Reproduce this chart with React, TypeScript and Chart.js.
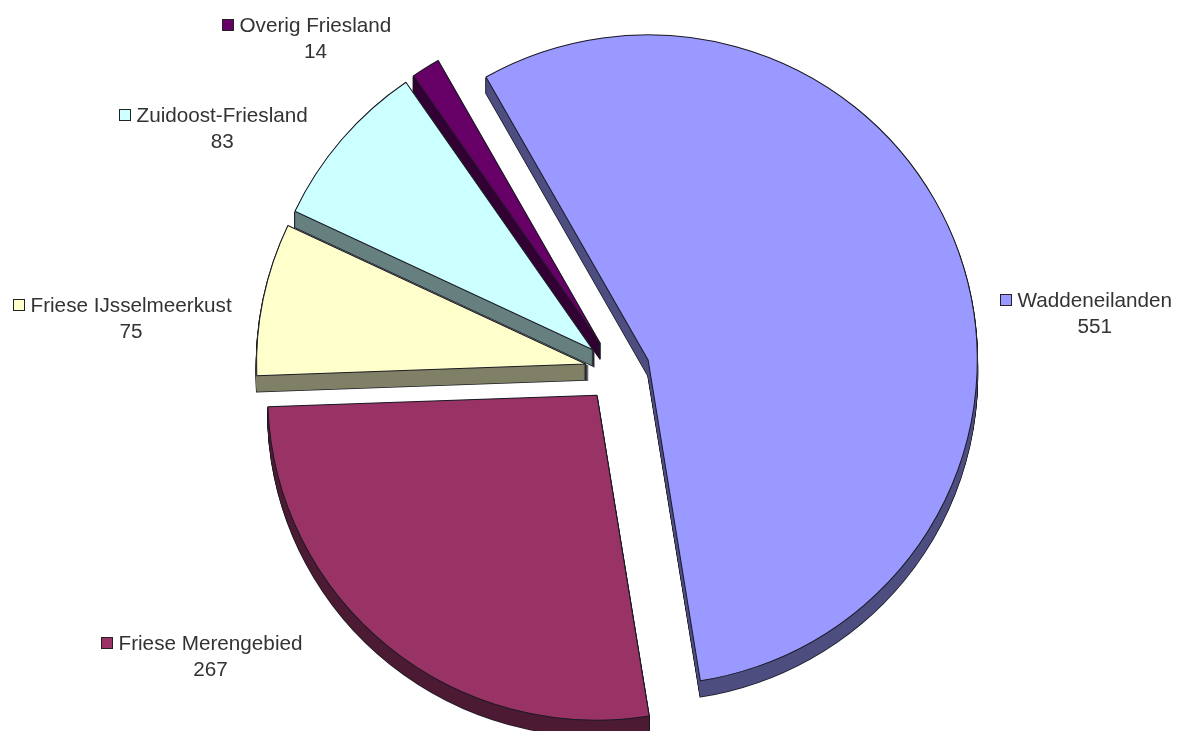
import React, { useEffect, useRef } from "react";
import { Chart, registerables } from "chart.js";

Chart.register(...registerables);

const categories = ["Waddeneilanden", "Friese Merengebied", "Friese IJsselmeerkust", "Zuidoost-Friesland", "Overig Friesland"];
const values = [551, 267, 75, 83, 14];
const faceColors = ["#9999ff", "#993366", "#ffffcc", "#ccffff", "#660066"];
const rimColors = ["#4d4d80", "#4d1a33", "#808066", "#668080", "#330033"];

const labelAnchors = [
  { x: 1000, y: 301 },
  { x: 101, y: 644 },
  { x: 13, y: 306 },
  { x: 119, y: 116 },
  { x: 222, y: 26 },
];

const EXPLODE = 32;
const DEPTH = 16;
const STRETCH_X = 1.013;
const OUTLINE = "#1a1a24";

const piePlugin = {
  id: "exploded3d",
  afterDatasetsUpdate(chart: any) {
    for (const el of chart.getDatasetMeta(0).data) {
      const mid = (el.startAngle + el.endAngle) / 2;
      el.x += Math.cos(mid) * EXPLODE;
      el.y += Math.sin(mid) * EXPLODE;
    }
  },
  beforeDatasetsDraw(chart: any) {
    const { ctx, chartArea } = chart;
    const cx = (chartArea.left + chartArea.right) / 2;
    const trace = (el: any, d: number) => {
      ctx.beginPath();
      ctx.moveTo(el.x, el.y + d);
      ctx.arc(el.x, el.y + d, el.outerRadius, el.startAngle, el.endAngle);
      ctx.closePath();
    };
    ctx.save();
    ctx.translate(cx, 0);
    ctx.scale(STRETCH_X, 1);
    ctx.translate(-cx, 0);
    chart.getDatasetMeta(0).data.forEach((el: any, i: number) => {
      ctx.strokeStyle = OUTLINE;
      ctx.lineWidth = 1.5;
      for (let d = 1; d <= DEPTH; d++) {
        trace(el, d);
        ctx.stroke();
      }
      ctx.fillStyle = rimColors[i];
      for (let d = 1; d <= DEPTH; d++) {
        trace(el, d);
        ctx.fill();
      }
    });
  },
  afterDatasetsDraw(chart: any) {
    chart.ctx.restore();
  },
  afterDraw(chart: any) {
    const { ctx } = chart;
    ctx.save();
    ctx.font = '20.7px "Liberation Sans", Arial, sans-serif';
    ctx.textBaseline = "middle";
    categories.forEach((name, i) => {
      const a = labelAnchors[i];
      const textX = a.x + 17.5;
      const w = ctx.measureText(name).width;
      ctx.fillStyle = faceColors[i];
      ctx.strokeStyle = "#222";
      ctx.lineWidth = 1;
      ctx.fillRect(a.x + 0.5, a.y - 6.5, 11, 11);
      ctx.strokeRect(a.x + 0.5, a.y - 6.5, 11, 11);
      ctx.fillStyle = "#333333";
      ctx.textAlign = "left";
      ctx.fillText(name, textX, a.y);
      ctx.textAlign = "center";
      ctx.fillText(String(values[i]), textX + w / 2, a.y + 26);
    });
    ctx.restore();
  },
};

export default function App() {
  const ref = useRef<HTMLCanvasElement>(null);
  useEffect(() => {
    const chart = new Chart(ref.current as HTMLCanvasElement, {
      type: "pie",
      data: {
        labels: categories,
        datasets: [
          {
            data: values,
            backgroundColor: faceColors,
            borderColor: OUTLINE,
            borderWidth: 1,
            radius: 325,
          } as any,
        ],
      },
      options: {
        animation: false,
        responsive: false,
        rotation: -29.5,
        layout: { padding: { left: 52, top: 10 } },
        plugins: { legend: { display: false }, tooltip: { enabled: false } },
      },
      plugins: [piePlugin],
    } as any);
    return () => chart.destroy();
  }, []);
  return (
    <div style={{ position: "absolute", left: 0, top: 0, width: 1183, height: 731, background: "#fff" }}>
      <canvas ref={ref} width={1183} height={731} style={{ display: "block" }} />
    </div>
  );
}
